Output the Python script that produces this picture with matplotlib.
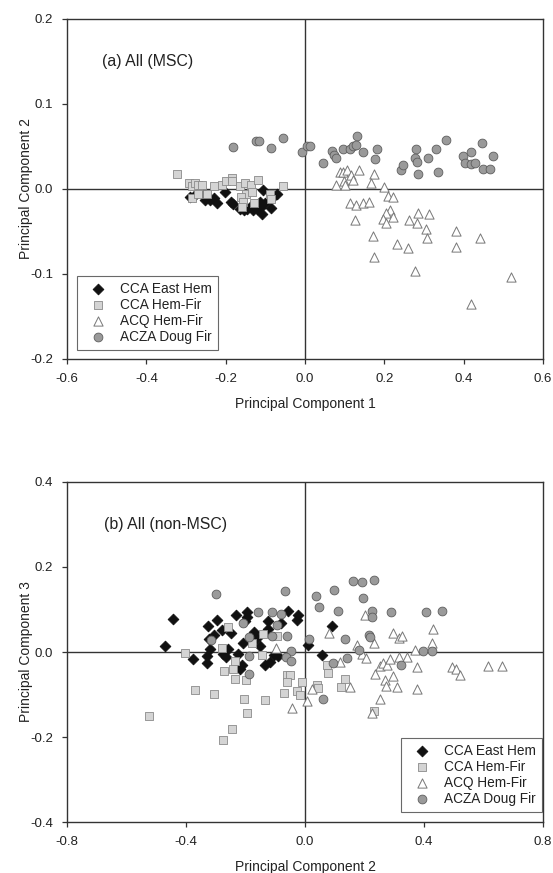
import numpy as np
import matplotlib
matplotlib.use("Agg")
import matplotlib.pyplot as plt

plt.rcParams['font.family'] = ['Liberation Sans', 'DejaVu Sans']

# (a) PC1 vs PC2 (MSC)
a_east_hem_x = [-0.290, -0.280, -0.255, -0.252, -0.239, -0.229, -0.223, -0.203, -0.187, -0.181,
                -0.164, -0.155, -0.147, -0.132, -0.122, -0.113, -0.109, -0.107, -0.113, -0.101,
                -0.086, -0.071, -0.080, -0.134]
a_east_hem_y = [-0.010, -0.008, -0.006, -0.013, -0.013, -0.011, -0.017, -0.004, -0.015, -0.018,
                -0.023, -0.025, -0.024, -0.025, -0.024, -0.022, -0.029, -0.001, -0.015, -0.017,
                -0.022, -0.006, -0.009, -0.019]
a_hemfir_x = [-0.322, -0.292, -0.286, -0.277, -0.269, -0.260, -0.286, -0.271, -0.248, -0.229,
              -0.210, -0.199, -0.185, -0.184, -0.164, -0.151, -0.150, -0.136, -0.134, -0.118,
              -0.161, -0.157, -0.128, -0.088, -0.087, -0.055, -0.160]
a_hemfir_y = [0.018, 0.007, 0.003, 0.007, 0.005, 0.005, -0.011, -0.006, -0.006, 0.004,
              0.005, 0.009, 0.013, 0.009, 0.003, 0.007, -0.006, 0.005, -0.003, 0.011,
              -0.009, -0.015, -0.016, -0.006, -0.012, 0.004, -0.021]
a_acq_x = [0.087, 0.095, 0.107, 0.137, 0.174, 0.115, 0.120, 0.098, 0.078, 0.101,
           0.166, 0.199, 0.210, 0.221, 0.113, 0.129, 0.147, 0.160, 0.214, 0.204,
           0.196, 0.221, 0.203, 0.263, 0.286, 0.313, 0.283, 0.305, 0.307, 0.125,
           0.171, 0.233, 0.259, 0.174, 0.381, 0.440, 0.381, 0.278, 0.518, 0.418]
a_acq_y = [0.020, 0.020, 0.022, 0.022, 0.018, 0.016, 0.011, 0.009, 0.005, 0.005,
           0.0075, 0.002, -0.008, -0.009, -0.016, -0.019, -0.016, -0.015, -0.025, -0.028,
           -0.035, -0.033, -0.040, -0.036, -0.028, -0.029, -0.040, -0.047, -0.058, -0.036,
           -0.055, -0.065, -0.070, -0.080, -0.050, -0.058, -0.068, -0.097, -0.103, -0.135]
a_acza_x = [-0.181, -0.124, -0.115, -0.085, -0.056, -0.007, 0.004, 0.013, 0.046, 0.069,
            0.073, 0.078, 0.095, 0.113, 0.120, 0.130, 0.128, 0.145, 0.182, 0.176,
            0.242, 0.248, 0.280, 0.278, 0.283, 0.286, 0.309, 0.330, 0.336, 0.355,
            0.397, 0.403, 0.418, 0.418, 0.429, 0.445, 0.448, 0.466, 0.473]
a_acza_y = [0.049, 0.056, 0.057, 0.048, 0.060, 0.043, 0.051, 0.051, 0.030, 0.045,
            0.040, 0.037, 0.047, 0.047, 0.050, 0.062, 0.052, 0.044, 0.047, 0.035,
            0.022, 0.028, 0.047, 0.036, 0.032, 0.018, 0.037, 0.047, 0.020, 0.058,
            0.039, 0.031, 0.044, 0.029, 0.031, 0.054, 0.024, 0.024, 0.039]

# (b) PC2 vs PC3 (non-MSC)
b_east_hem_x = [-0.443, -0.471, -0.378, -0.331, -0.331, -0.325, -0.297, -0.306, -0.322, -0.319,
                -0.278, -0.249, -0.232, -0.196, -0.196, -0.202, -0.170, -0.162, -0.210, -0.151,
                -0.125, -0.082, -0.056, -0.022, -0.028, -0.224, -0.275, -0.258, -0.267, -0.218,
                -0.213, -0.134, -0.118, -0.104, -0.090, 0.011, 0.056, 0.090, -0.123]
b_east_hem_y = [0.078, 0.014, -0.016, -0.010, -0.026, 0.060, 0.075, 0.039, 0.031, 0.008,
                0.051, 0.045, 0.086, 0.094, 0.082, 0.073, 0.047, 0.034, 0.020, 0.014,
                0.073, 0.068, 0.096, 0.086, 0.075, -0.004, -0.005, 0.008, -0.012, -0.039,
                -0.031, -0.031, -0.024, -0.008, -0.010, 0.016, -0.008, 0.060, 0.053]
b_hemfir_x = [-0.403, -0.260, -0.280, -0.235, -0.272, -0.243, -0.235, -0.198, -0.179, -0.146,
              -0.140, -0.093, -0.370, -0.305, -0.205, -0.134, -0.196, -0.523, -0.244, -0.277,
              -0.071, -0.059, -0.050, -0.062, -0.026, -0.017, -0.011, 0.039, 0.045, 0.073,
              0.078, 0.121, 0.134, 0.232]
b_hemfir_y = [-0.002, 0.059, 0.010, -0.020, -0.045, -0.039, -0.063, -0.065, 0.020, -0.008,
              0.043, 0.037, -0.089, -0.098, -0.111, -0.114, -0.144, -0.151, -0.181, -0.206,
              -0.096, -0.055, -0.055, -0.071, -0.092, -0.102, -0.071, -0.078, -0.084, -0.031,
              -0.049, -0.082, -0.063, -0.139]
b_acq_x = [0.202, 0.082, 0.297, 0.317, 0.325, 0.429, 0.426, 0.232, 0.174, 0.190,
           0.204, 0.252, 0.261, 0.275, 0.286, 0.317, 0.344, 0.375, 0.370, 0.493,
           0.508, 0.521, 0.616, 0.661, 0.235, 0.269, 0.295, 0.272, 0.310, 0.378,
           0.252, 0.151, 0.118, 0.022, 0.006, -0.043, -0.097, 0.224]
b_acq_y = [0.086, 0.045, 0.045, 0.034, 0.037, 0.053, 0.020, 0.020, 0.016, -0.004,
           -0.013, -0.033, -0.027, -0.031, -0.016, -0.012, -0.012, -0.035, 0.004, -0.035,
           -0.039, -0.053, -0.033, -0.033, -0.051, -0.067, -0.057, -0.080, -0.082, -0.086,
           -0.110, -0.082, -0.024, -0.086, -0.115, -0.132, 0.009, -0.143]
b_acza_x = [-0.300, -0.069, 0.036, 0.097, 0.162, 0.190, 0.233, 0.196, 0.048, 0.112,
            0.224, 0.224, 0.288, 0.406, 0.459, -0.157, -0.112, -0.081, -0.210, -0.093,
            -0.187, -0.112, -0.062, 0.015, -0.317, -0.047, -0.187, -0.064, -0.048, 0.134,
            0.216, 0.218, 0.183, 0.142, 0.095, 0.324, 0.398, 0.428, -0.190, 0.062]
b_acza_y = [0.136, 0.143, 0.131, 0.147, 0.166, 0.165, 0.170, 0.128, 0.106, 0.096,
            0.096, 0.082, 0.093, 0.093, 0.096, 0.094, 0.093, 0.090, 0.068, 0.063,
            0.035, 0.037, 0.037, 0.031, 0.029, 0.002, -0.010, -0.012, -0.022, 0.031,
            0.041, 0.035, 0.005, -0.014, -0.025, -0.030, 0.002, 0.002, -0.051, -0.111]

labels = ["CCA East Hem", "CCA Hem-Fir", "ACQ Hem-Fir", "ACZA Doug Fir"]
TXT = "#222222"


def panel(ax, series, xlim, ylim, xticks, yticks, xlabel, ylabel, title, title_x,
          leg_loc, leg_anchor):
    styles = [
        dict(marker="D", s=30, facecolor="#111111", edgecolor="#111111", linewidths=0.6),
        dict(marker="s", s=32, facecolor="#d4d4d4", edgecolor="#8a8a8a", linewidths=0.6),
        dict(marker="^", s=44, facecolor="white", edgecolor="#777777", linewidths=0.7),
        dict(marker="o", s=40, facecolor="#9a9a9a", edgecolor="#5e5e5e", linewidths=0.6),
    ]
    for (xs, ys), st, lab in zip(series, styles, labels):
        ax.scatter(xs, ys, label=lab, zorder=3, **st)
    ax.axhline(0, color="#333333", lw=1.0, zorder=2)
    ax.axvline(0, color="#333333", lw=1.0, zorder=2)
    ax.set_xlim(*xlim)
    ax.set_ylim(*ylim)
    ax.set_xticks(xticks)
    ax.set_yticks(yticks)
    ax.set_xticklabels([f"{v:.1f}" for v in xticks])
    ax.set_yticklabels([f"{v:.1f}" for v in yticks])
    ax.tick_params(direction="out", length=3.6, width=0.9, labelsize=9.5, colors="#333333",
                   labelcolor=TXT, pad=6.3)
    for sp in ax.spines.values():
        sp.set_color("#333333")
        sp.set_linewidth(1.0)
    ax.set_xlabel(xlabel, fontsize=10, color=TXT)
    ax.set_ylabel(ylabel, fontsize=10, color=TXT)
    ax.xaxis.set_label_coords(0.5, -0.113)
    ax.yaxis.set_label_coords(-0.071, 0.5)
    ax.text(title_x, 0.863, title, transform=ax.transAxes, fontsize=11.4, color=TXT,
            va="baseline")
    leg = ax.legend(loc=leg_loc, bbox_to_anchor=leg_anchor, frameon=True, fancybox=False,
                    fontsize=9.8, handletextpad=0.5, borderpad=0.45, labelspacing=0.15,
                    handlelength=2.2, borderaxespad=0.0)
    leg.get_frame().set_edgecolor("#444444")
    leg.get_frame().set_linewidth(0.8)
    for t in leg.get_texts():
        t.set_color(TXT)


fig = plt.figure(figsize=(5.53, 8.73), dpi=100)
ax1 = fig.add_axes([0.1212, 0.5888, 0.8608, 0.3895])
ax2 = fig.add_axes([0.1212, 0.0584, 0.8608, 0.3895])

panel(ax1,
      [(a_east_hem_x, a_east_hem_y), (a_hemfir_x, a_hemfir_y),
       (a_acq_x, a_acq_y), (a_acza_x, a_acza_y)],
      (-0.6, 0.6), (-0.2, 0.2),
      [-0.6, -0.4, -0.2, 0.0, 0.2, 0.4, 0.6], [-0.2, -0.1, 0.0, 0.1, 0.2],
      "Principal Component 1", "Principal Component 2", "(a) All (MSC)", 0.0735,
      "lower left", (0.021, 0.026))

panel(ax2,
      [(b_east_hem_x, b_east_hem_y), (b_hemfir_x, b_hemfir_y),
       (b_acq_x, b_acq_y), (b_acza_x, b_acza_y)],
      (-0.8, 0.8), (-0.4, 0.4),
      [-0.8, -0.4, 0.0, 0.4, 0.8], [-0.4, -0.2, 0.0, 0.2, 0.4],
      "Principal Component 2", "Principal Component 3", "(b) All (non-MSC)", 0.077,
      "lower right", (0.998, 0.029))

fig.savefig("out.png", dpi=100)
